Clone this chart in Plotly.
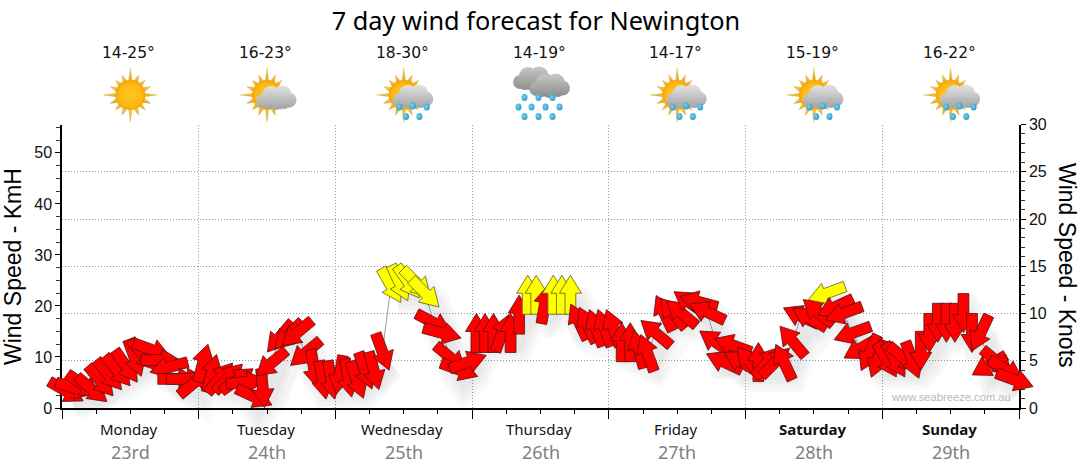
import base64
import math
import plotly.graph_objects as go

# Forecast values, 16 readings per day
hours = [
    0.75, 2.25, 3.75, 5.25, 6.75, 8.25, 9.75, 11.25, 12.75, 14.25, 15.75, 17.25, 18.75, 20.25, 21.75, 23.25,
    24.75, 26.25, 27.75, 29.25, 30.75, 32.25, 33.75, 35.25, 36.75, 38.25, 39.75, 41.25, 42.75, 44.25, 45.75, 47.25,
    48.75, 50.25, 51.75, 53.25, 54.75, 56.25, 57.75, 59.25, 60.75, 62.25, 63.75, 65.25, 66.75, 68.25, 69.75, 71.25,
    72.75, 74.25, 75.75, 77.25, 78.75, 80.25, 81.75, 83.25, 84.75, 86.25, 87.75, 89.25, 90.75, 92.25, 93.75, 95.25,
    96.75, 98.25, 99.75, 101.25, 102.75, 104.25, 105.75, 107.25, 108.75, 110.25, 111.75, 113.25, 114.75, 116.25, 117.75, 119.25,
    120.75, 122.25, 123.75, 125.25, 126.75, 128.25, 129.75, 131.25, 132.75, 134.25, 135.75, 137.25, 138.75, 140.25, 141.75, 143.25,
    144.75, 146.25, 147.75, 149.25, 150.75, 152.25, 153.75, 155.25, 156.75, 158.25, 159.75, 161.25, 162.75, 164.25, 165.75, 167.25,
]
speed_kmh = [
    3.3, 3.9, 4.5, 3.7, 5.3, 6.5, 7.3, 8.2, 9.8, 10.4, 11.4, 9.4, 8.0, 5.7, 5.7, 5.0,
    8.8, 6.8, 5.9, 5.9, 5.5, 5.1, 2.2, 3.9, 8.8, 13.9, 14.3, 14.7, 10.8, 7.7, 5.5, 5.5,
    6.5, 5.9, 5.5, 7.3, 7.3, 11.0, 24.0, 24.5, 24.7, 24.5, 22.5, 16.7, 14.7, 9.8, 7.5, 9.0,
    14.7, 14.7, 14.7, 14.7, 14.7, 18.3, 22.2, 22.2, 20.3, 22.2, 22.2, 22.2, 16.9, 16.3, 15.7, 15.7,
    15.7, 12.9, 12.9, 11.5, 10.8, 14.7, 18.6, 18.6, 18.6, 20.6, 20.8, 18.8, 12.9, 9.0, 12.3, 9.0,
    9.0, 9.0, 9.0, 9.0, 9.0, 13.1, 18.0, 17.6, 18.8, 22.5, 19.8, 18.6, 14.7, 11.7, 10.8, 9.6,
    9.4, 9.4, 9.8, 9.4, 11.2, 14.7, 16.7, 16.7, 16.7, 18.6, 14.7, 14.7, 8.4, 9.0, 7.5, 5.5,
]
heading_deg = [
    120, 107, 125, 130, 140, 140, 140, 145, 160, 140, 110, 90, 255, 90, 90, 50,
    15, 15, 40, 45, 55, 85, 115, 175, 230, 220, 225, 230, 230, 170, 170, 170,
    190, 170, 160, 160, 165, 160, 150, 155, 145, 135, 135, 118, 105, 130, 110, 70,
    0, 0, 0, 20, 0, 0, 0, 0, 10, 0, 0, 0, 335, 335, 340, 340,
    340, 0, 0, 345, 340, 310, 335, 320, 310, 305, 285, 295, 305, 295, 290, 300,
    320, 0, 40, 45, 335, 320, 295, 300, 310, 250, 245, 250, 250, 240, 205, 200,
    150, 150, 130, 160, 180, 180, 180, 180, 180, 180, 180, 205, 240, 130, 120, 110,
]
day_names = ["Monday", "Tuesday", "Wednesday", "Thursday", "Friday", "Saturday", "Sunday"]
day_dates = ["23rd", "24th", "25th", "26th", "27th", "28th", "29th"]
day_temps = ["14-25°", "16-23°", "18-30°", "14-19°", "14-17°", "15-19°", "16-22°"]
day_icons = ["sun", "cloudy", "showers", "rain", "showers", "showers", "showers"]
day_starts = [0, 24, 48, 72, 96, 120, 144, 168]

FONT = "Noto Sans"
WIDE_FONT = "DejaVu Sans"
AXIS_FONT = "Liberation Sans"
FIG_W, FIG_H, MARGIN = 1080, 475, 20
PLOT_LEFT, PLOT_RIGHT, PLOT_TOP, PLOT_BOTTOM = 62, 1019, 124.5, 408
KMH_MAX = 55.56
PX_PER_HOUR = (PLOT_RIGHT - PLOT_LEFT) / 168
PX_PER_KMH = (PLOT_BOTTOM - PLOT_TOP) / KMH_MAX


# page pixels to paper fractions
def paper_x(px):
    return (px - MARGIN) / (FIG_W - 2 * MARGIN)


def paper_y(py):
    return (FIG_H - MARGIN - py) / (FIG_H - 2 * MARGIN)


# Arrow outline in pixels around its centre, turned to the heading, then put in axis units
def arrow_shape(hour, kmh, heading):
    outline = [(-19.5, -5.4), (1.5, -5.4), (1.5, -11), (19.5, 0), (1.5, 11), (1.5, 5.4), (-19.5, 5.4), (-19.5, -5.4)]
    s, c = math.sin(math.radians(heading)), math.cos(math.radians(heading))
    xs, ys = [], []
    for u, v in outline:
        xs.append(hour + (u * s + v * c) / PX_PER_HOUR)
        ys.append(kmh + (u * c - v * s) / PX_PER_KMH)
    return xs, ys


# Weather icons as small svg pictures
def sun_svg():
    rays = ""
    for i in range(16):
        r = 27 if i % 4 == 0 else 21 if i % 2 == 0 else 22
        a = math.radians(i * 22.5)
        b = 0.13 if i % 4 == 0 else 0.17
        pts = [(30 + 14 * math.sin(a - b), 30 - 14 * math.cos(a - b)),
               (30 + r * math.sin(a), 30 - r * math.cos(a)),
               (30 + 14 * math.sin(a + b), 30 - 14 * math.cos(a + b))]
        rays += '<polygon points="%s" fill="url(#ray)" stroke="#c9a24a" stroke-width="0.3"/>' % " ".join("%.1f,%.1f" % p for p in pts)
    return rays + '<circle cx="30" cy="30" r="15" fill="url(#disc)"/>'


def cloud_svg(cx, cy, tag, top="#e2e2e2", bottom="#a0a0a0"):
    parts = [(-13, 3, 7), (-5, -3, 9), (6, -3, 9.5), (13, 2, 7.5), (0, 3, 9), (-8, 4, 7), (8, 4, 7)]
    blobs = "".join('<circle cx="%.1f" cy="%.1f" r="%.1f"/>' % (cx + x, cy + y, r) for x, y, r in parts)
    grad = ('<linearGradient id="%s" gradientUnits="userSpaceOnUse" x1="0" y1="%.1f" x2="0" y2="%.1f">'
            '<stop offset="0" stop-color="%s"/><stop offset="1" stop-color="%s"/></linearGradient>' % (tag, cy - 12, cy + 12, top, bottom))
    return '<defs>%s</defs><g fill="url(#%s)">%s</g>' % (grad, tag, blobs)


def drops_svg(points):
    return "".join('<ellipse cx="%.1f" cy="%.1f" rx="3" ry="3.6" fill="url(#drop)"/>' % (30 + x, 30 + y) for x, y in points)


def icon_uri(kind):
    defs = ('<defs>'
            '<radialGradient id="disc" cx="50%" cy="50%" r="55%"><stop offset="0" stop-color="#ffc81e"/><stop offset="0.7" stop-color="#fdb813"/><stop offset="1" stop-color="#ef9a06"/></radialGradient>'
            '<linearGradient id="ray" x1="0" y1="0" x2="0" y2="1"><stop offset="0" stop-color="#f5cb45"/><stop offset="1" stop-color="#eaa91c"/></linearGradient>'
            '<radialGradient id="drop" cx="40%" cy="40%" r="60%"><stop offset="0" stop-color="#7cd0ee"/><stop offset="1" stop-color="#2b9fd0"/></radialGradient>'
            '</defs>')
    if kind == "sun":
        body = sun_svg()
    elif kind == "cloudy":
        body = sun_svg() + cloud_svg(39, 33, "c1")
    elif kind == "showers":
        body = sun_svg() + cloud_svg(39, 32, "c1") + drops_svg([(-4.5, 12), (9, 11), (23, 12), (2.3, 21.5), (15.6, 21.5)])
    else:
        body = (cloud_svg(22.5, 14, "c1", "#c6c6c6", "#8c8c8c") + cloud_svg(39, 21, "c2", "#c8c8c8", "#8a8a8a")
                + drops_svg([(-16, 2.5), (-2, 2.5), (12, 2.5), (-22, 12), (-9, 12), (5, 12), (19, 12), (-16, 21.5), (-2, 21.5), (12, 21.5)]))
    svg = '<svg xmlns="http://www.w3.org/2000/svg" width="60" height="60" viewBox="0 0 60 60">%s%s</svg>' % (defs, body)
    return "data:image/svg+xml;base64," + base64.b64encode(svg.encode()).decode()


fig = go.Figure()

# see-through traces so the two drawn y axes and the x axis stay on the page
fig.add_trace(go.Scatter(x=[0, 168], y=[0, KMH_MAX], xaxis="x", yaxis="y", mode="lines", line={"color": "rgba(0,0,0,0)"}, hoverinfo="skip", showlegend=False))
fig.add_trace(go.Scatter(x=[0, 168], y=[0, 30], xaxis="x", yaxis="y2", mode="lines", line={"color": "rgba(0,0,0,0)"}, hoverinfo="skip", showlegend=False))

# The arrows stick out past the axes, so they sit on hidden axes covering the whole figure at the same scale
# soft shadow under the arrows: see-through ribbons along the readings, set down and to the right
ribbon_x, ribbon_y = [], []
for i, (hour, kmh) in enumerate(zip(hours, speed_kmh)):
    if i > 0 and abs(kmh - speed_kmh[i - 1]) > 7:
        ribbon_x.append(None)
        ribbon_y.append(None)
    ribbon_x.append(hour + 6 / PX_PER_HOUR)
    ribbon_y.append(kmh - 11 / PX_PER_KMH)
for width in [38, 30, 22, 14]:
    fig.add_trace(go.Scatter(x=ribbon_x, y=ribbon_y, xaxis="x2", yaxis="y3", mode="lines",
                             line={"color": "rgba(0,0,0,0.024)", "width": width}, hoverinfo="skip", showlegend=False))

# thin line joining the readings
fig.add_trace(go.Scatter(x=hours, y=speed_kmh, xaxis="x2", yaxis="y3", mode="lines", line={"color": "#999999", "width": 1},
                         hoverinfo="skip", showlegend=False))

for hour, kmh, heading in zip(hours, speed_kmh, heading_deg):
    xs, ys = arrow_shape(hour, kmh, heading)
    colour = "#ffff00" if kmh >= 21 else "#ff0000"
    edge = "#5a5a20" if kmh >= 21 else "#551010"
    fig.add_trace(go.Scatter(x=xs, y=ys, xaxis="x2", yaxis="y3", mode="lines", fill="toself", fillcolor=colour,
                             line={"color": edge, "width": 0.8}, hoverinfo="skip", showlegend=False))

annotations = []
images = []
for i in range(7):
    mid = (day_starts[i] + day_starts[i + 1]) / 2
    mid_px = PLOT_LEFT + mid * PX_PER_HOUR
    weight = "<b>%s</b>" % day_names[i] if i >= 5 else day_names[i]
    annotations.append(dict(x=paper_x(mid_px), xref="paper", y=paper_y(429), yref="paper", xshift=-1.5, xanchor="center", yanchor="middle",
                            text=weight, showarrow=False, font={"family": FONT, "size": 15, "color": "#111111"}))
    annotations.append(dict(x=paper_x(mid_px), xref="paper", y=paper_y(452), yref="paper", xanchor="center", yanchor="middle",
                            text=day_dates[i], showarrow=False, font={"family": FONT, "size": 18, "color": "#808080"}))
    annotations.append(dict(x=paper_x(mid_px), xref="paper", y=paper_y(53), yref="paper", xshift=-1.5, xanchor="center", yanchor="middle",
                            text=day_temps[i], showarrow=False, font={"family": WIDE_FONT, "size": 15.5, "color": "#111111"}))
    images.append(dict(source=icon_uri(day_icons[i]), xref="paper", yref="paper", x=paper_x(mid_px), y=paper_y(95),
                       sizex=60 / (FIG_W - 2 * MARGIN), sizey=60 / (FIG_H - 2 * MARGIN), xanchor="center", yanchor="middle", sizing="stretch", layer="above"))

annotations.append(dict(x=paper_x(1013), xref="paper", y=paper_y(397), yref="paper", xanchor="right", yanchor="middle",
                        text="www.seabreeze.com.au", showarrow=False, font={"family": AXIS_FONT, "size": 11.2, "color": "#b4bac2"}))
annotations.append(dict(x=paper_x(13), xref="paper", y=paper_y(267), yref="paper", xanchor="center", yanchor="middle", textangle=-90,
                        text="Wind Speed - KmH", showarrow=False, font={"family": AXIS_FONT, "size": 23, "color": "#000000"}))
annotations.append(dict(x=paper_x(1067), xref="paper", y=paper_y(265), yref="paper", xanchor="center", yanchor="middle", textangle=90,
                        text="Wind Speed - Knots", showarrow=False, font={"family": AXIS_FONT, "size": 23, "color": "#000000"}))

y_domain = [paper_y(PLOT_BOTTOM), paper_y(PLOT_TOP)]

fig.update_layout(
    width=FIG_W, height=FIG_H, autosize=False,
    margin={"l": MARGIN, "r": MARGIN, "t": MARGIN, "b": MARGIN, "pad": 0},
    paper_bgcolor="white", plot_bgcolor="rgba(0,0,0,0)", showlegend=False, hovermode=False, dragmode=False,
    title={"text": "7 day wind forecast for Newington", "x": 536 / FIG_W, "xanchor": "center",
           "y": 1 - 21 / FIG_H, "yanchor": "middle", "font": {"family": FONT, "size": 25.3, "color": "#000000"}},
    xaxis={"domain": [paper_x(PLOT_LEFT), paper_x(PLOT_RIGHT)], "anchor": "y", "range": [0, 168], "tickmode": "array", "tickvals": day_starts,
           "ticktext": [""] * 8, "ticks": "outside", "ticklen": 9,
           "tickcolor": "#000000", "showline": True, "linecolor": "#000000", "linewidth": 1.5, "zeroline": False,
           "showgrid": True, "gridcolor": "#999999", "griddash": "1px,2px", "gridwidth": 1,
           "minor": {"dtick": 6, "ticks": "outside", "ticklen": 4, "tickcolor": "#000000", "showgrid": False}},
    yaxis={"domain": y_domain, "anchor": "x", "range": [0, KMH_MAX], "tickmode": "array", "tickvals": [0, 10, 20, 30, 40, 50], "ticks": "outside", "ticklen": 5,
           "tickcolor": "#000000", "showline": True, "linecolor": "#000000", "linewidth": 1.5, "zeroline": False, "showgrid": False,
           "tickfont": {"family": AXIS_FONT, "size": 16, "color": "#111111"},
           "minor": {"dtick": 2.5, "ticks": "outside", "ticklen": 4, "tickcolor": "#333333", "showgrid": False}},
    yaxis2={"domain": y_domain, "anchor": "x", "range": [0, 30], "overlaying": "y", "side": "right", "tickmode": "array", "tickvals": [0, 5, 10, 15, 20, 25, 30],
            "ticks": "outside", "ticklen": 5, "tickcolor": "#000000", "showline": True, "linecolor": "#000000", "linewidth": 1.5,
            "zeroline": False, "showgrid": True, "gridcolor": "#999999", "griddash": "1px,2px", "gridwidth": 1,
            "tickfont": {"family": AXIS_FONT, "size": 16, "color": "#111111"},
            "minor": {"dtick": 1, "ticks": "outside", "ticklen": 4, "tickcolor": "#333333", "showgrid": False}},
    xaxis2={"domain": [0, 1], "anchor": "y3", "range": [(MARGIN - PLOT_LEFT) / PX_PER_HOUR, (FIG_W - MARGIN - PLOT_LEFT) / PX_PER_HOUR], "visible": False},
    yaxis3={"domain": [0, 1], "anchor": "x2", "range": [(PLOT_BOTTOM - FIG_H + MARGIN) / PX_PER_KMH, (PLOT_BOTTOM - MARGIN) / PX_PER_KMH], "visible": False},
    annotations=annotations, images=images,
)

fig.write_html("out.html", config={"displayModeBar": False}, post_script="document.body.style.margin = '0';")
